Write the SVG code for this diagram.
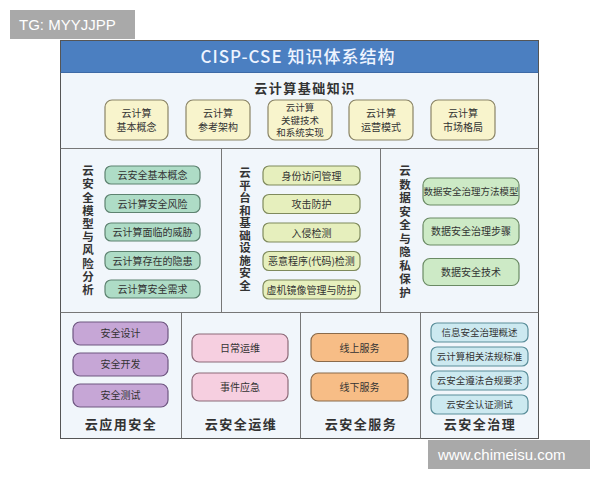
<svg xmlns="http://www.w3.org/2000/svg" width="600" height="480" viewBox="0 0 600 480">
<style>
text{font-family:"Noto Sans CJK SC","Noto Sans",sans-serif;fill:#333;text-anchor:middle}
.t{font-size:10px}
.ts{font-size:9.5px}
.sec{font-size:13px;font-weight:bold;letter-spacing:1.5px}
.vt{font-size:11.5px;font-weight:bold;writing-mode:vertical-rl;text-anchor:start}
.y{fill:#f8f4cc;stroke:#8a8466;stroke-width:1.2}
.g1{fill:#aedcc6;stroke:#5d8270;stroke-width:1.2}
.g2{fill:#e6efbd;stroke:#7f8a5c;stroke-width:1.2}
.g3{fill:#cdeac6;stroke:#6a8a64;stroke-width:1.2}
.pu{fill:#c6a6d6;stroke:#6e5680;stroke-width:1.2}
.pk{fill:#f6cfe0;stroke:#8c6a78;stroke-width:1.2}
.or{fill:#f7bd86;stroke:#8a6a4a;stroke-width:1.2}
.bl{fill:#cce9f0;stroke:#5a8e9a;stroke-width:1.2}
.wm{fill:#a9a9a9}
.wmt{font-family:"Liberation Sans",Arial,sans-serif;fill:#fff;font-size:15px;text-anchor:start}
</style>
<rect width="600" height="480" fill="#fff"/>
<!-- frame -->
<rect x="60.5" y="40.5" width="478" height="398" fill="#f1f6fb" stroke="#555"/>
<rect x="61" y="41" width="477" height="31" fill="#4b7fc1"/>
<line x1="60.5" y1="72.5" x2="538.5" y2="72.5" stroke="#3d6aa6"/>
<text x="298" y="63" style="font-size:17px;fill:#eef4ff;letter-spacing:1px;font-weight:500">CISP-CSE 知识体系结构</text>
<!-- panel lines -->
<g stroke="#777" stroke-width="1" fill="none">
<line x1="60.5" y1="148.5" x2="538.5" y2="148.5"/>
<line x1="60.5" y1="312.5" x2="538.5" y2="312.5"/>
<line x1="221.5" y1="148.5" x2="221.5" y2="312.5"/>
<line x1="380.5" y1="148.5" x2="380.5" y2="312.5"/>
<line x1="181.5" y1="312.5" x2="181.5" y2="438.5"/>
<line x1="300.5" y1="312.5" x2="300.5" y2="438.5"/>
<line x1="420.5" y1="312.5" x2="420.5" y2="438.5"/>
</g>
<g id="connectors"/>
<!-- top -->
<text class="sec" x="305" y="93">云计算基础知识</text>
<g id="n-basic"><rect class="y" x="105" y="100" width="63" height="40" rx="7"/><text class="t" x="136.5" y="117">云计算</text><text class="t" x="136.5" y="131">基本概念</text></g>
<g id="n-arch"><rect class="y" x="186" y="100" width="64" height="40" rx="7"/><text class="t" x="218" y="117">云计算</text><text class="t" x="218" y="131">参考架构</text></g>
<g id="n-key"><rect class="y" x="268" y="100" width="64" height="40" rx="7"/><text class="ts" x="300" y="111">云计算</text><text class="ts" x="300" y="123.5">关键技术</text><text class="ts" x="300" y="136">和系统实现</text></g>
<g id="n-op"><rect class="y" x="349" y="100" width="64" height="40" rx="7"/><text class="t" x="381" y="117">云计算</text><text class="t" x="381" y="131">运营模式</text></g>
<g id="n-mkt"><rect class="y" x="431" y="100" width="64" height="40" rx="7"/><text class="t" x="463" y="117">云计算</text><text class="t" x="463" y="131">市场格局</text></g>
<!-- left middle -->
<g id="s-model"><text class="vt" x="88" y="165" style="letter-spacing:1.7px">云安全模型与风险分析</text></g>
<g id="n-m1"><rect class="g1" x="105" y="166" width="95" height="18" rx="6"/><text class="t" x="152.5" y="179">云安全基本概念</text></g>
<g id="n-m2"><rect class="g1" x="105" y="194.5" width="95" height="18" rx="6"/><text class="t" x="152.5" y="207.5">云计算安全风险</text></g>
<g id="n-m3"><rect class="g1" x="105" y="223" width="95" height="18" rx="6"/><text class="t" x="152.5" y="236">云计算面临的威胁</text></g>
<g id="n-m4"><rect class="g1" x="105" y="251.5" width="95" height="18" rx="6"/><text class="t" x="152.5" y="264.5">云计算存在的隐患</text></g>
<g id="n-m5"><rect class="g1" x="105" y="280" width="95" height="18" rx="6"/><text class="t" x="152.5" y="293">云计算安全需求</text></g>
<!-- middle middle -->
<g id="s-plat"><text class="vt" x="245" y="167" style="letter-spacing:1px">云平台和基础设施安全</text></g>
<g id="n-p1"><rect class="g2" x="263" y="166" width="97" height="19" rx="6"/><text class="t" x="311.5" y="179.5">身份访问管理</text></g>
<g id="n-p2"><rect class="g2" x="263" y="194.5" width="97" height="19" rx="6"/><text class="t" x="311.5" y="208">攻击防护</text></g>
<g id="n-p3"><rect class="g2" x="263" y="223" width="97" height="19" rx="6"/><text class="t" x="311.5" y="236.5">入侵检测</text></g>
<g id="n-p4"><rect class="g2" x="263" y="251.5" width="97" height="19" rx="6"/><text class="t" x="311.5" y="265">恶意程序(代码)检测</text></g>
<g id="n-p5"><rect class="g2" x="263" y="280" width="97" height="19" rx="6"/><text class="t" x="311.5" y="293.5">虚机镜像管理与防护</text></g>
<!-- right middle -->
<g id="s-data"><text class="vt" x="405" y="165" style="letter-spacing:2px">云数据安全与隐私保护</text></g>
<g id="n-d1"><rect class="g3" x="423" y="178" width="96" height="27" rx="7"/><text class="ts" x="471" y="195">数据安全治理方法模型</text></g>
<g id="n-d2"><rect class="g3" x="423" y="218" width="96" height="27" rx="7"/><text class="t" x="471" y="235">数据安全治理步骤</text></g>
<g id="n-d3"><rect class="g3" x="423" y="258.5" width="96" height="27" rx="7"/><text class="t" x="471" y="275.5">数据安全技术</text></g>
<!-- bottom -->
<g id="n-a1"><rect class="pu" x="73" y="322" width="95" height="23" rx="7"/><text class="t" x="120.5" y="337">安全设计</text></g>
<g id="n-a2"><rect class="pu" x="73" y="353" width="95" height="23" rx="7"/><text class="t" x="120.5" y="368">安全开发</text></g>
<g id="n-a3"><rect class="pu" x="73" y="384" width="95" height="23" rx="7"/><text class="t" x="120.5" y="399">安全测试</text></g>
<text class="sec" x="121" y="429">云应用安全</text>
<g id="n-o1"><rect class="pk" x="192" y="334" width="96" height="28" rx="7"/><text class="t" x="240" y="352">日常运维</text></g>
<g id="n-o2"><rect class="pk" x="192" y="373" width="96" height="28" rx="7"/><text class="t" x="240" y="391">事件应急</text></g>
<text class="sec" x="241" y="429">云安全运维</text>
<g id="n-s1"><rect class="or" x="311" y="333.5" width="97" height="28" rx="7"/><text class="t" x="359.5" y="351.5">线上服务</text></g>
<g id="n-s2"><rect class="or" x="311" y="373" width="97" height="28" rx="7"/><text class="t" x="359.5" y="391">线下服务</text></g>
<text class="sec" x="361" y="429">云安全服务</text>
<g id="n-g1"><rect class="bl" x="431" y="323" width="97" height="19" rx="6"/><text class="ts" x="479.5" y="336">信息安全治理概述</text></g>
<g id="n-g2"><rect class="bl" x="431" y="347" width="97" height="19" rx="6"/><text class="ts" x="479.5" y="360">云计算相关法规标准</text></g>
<g id="n-g3"><rect class="bl" x="431" y="371" width="97" height="19" rx="6"/><text class="ts" x="479.5" y="384">云安全遵法合规要求</text></g>
<g id="n-g4"><rect class="bl" x="431" y="395" width="97" height="19" rx="6"/><text class="ts" x="479.5" y="408">云安全认证测试</text></g>
<text class="sec" x="480" y="429">云安全治理</text>
<!-- watermarks -->
<rect class="wm" x="10" y="10" width="125" height="29"/>
<text class="wmt" x="19" y="30">TG: MYYJJPP</text>
<rect class="wm" x="428" y="440" width="162" height="29"/>
<text class="wmt" x="438" y="460">www.chimeisu.com</text>
</svg>
